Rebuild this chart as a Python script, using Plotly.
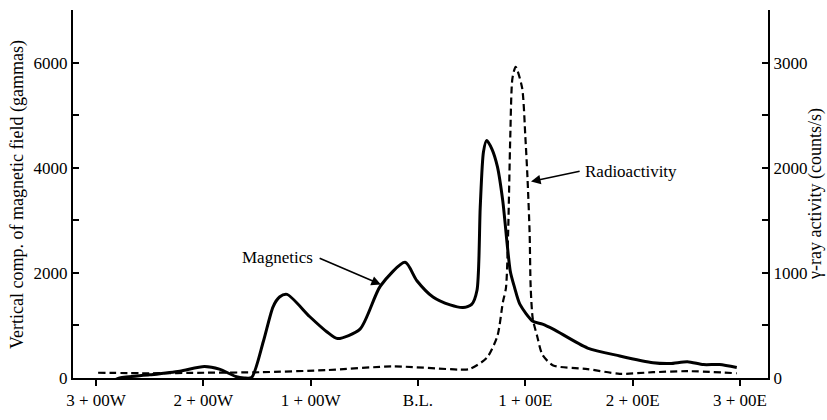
import plotly.graph_objects as go

# Station positions in hundreds of feet (negative = West, 0 = B.L., positive = East)
mag_x = [-2.98, -2.85, -2.78, -2.50, -2.22, -1.99, -1.85, -1.70, -1.62, -1.55, -1.44, -1.35, -1.29, -1.22,
         -1.01, -0.85, -0.75, -0.54, -0.35, -0.12, -0.01, 0.14, 0.30, 0.42, 0.50, 0.55, 0.58, 0.61, 0.64,
         0.69, 0.74, 0.79, 0.86, 0.90, 0.95, 1.07, 1.16, 1.26, 1.58, 1.88, 2.19, 2.35, 2.51, 2.66, 2.81, 2.97]
mag_y = [-150, -60, 0, 60, 130, 220, 170, 30, 0, 10, 700, 1355, 1540, 1590,
         1170, 880, 750, 930, 1750, 2200, 1850, 1540, 1390, 1340, 1400, 1670, 3250, 4300, 4520,
         4350, 4020, 3370, 2030, 1720, 1400, 1080, 1025, 930, 570, 420, 290, 275, 310, 255, 255, 200]

rad_x = [-2.98, -2.5, -1.99, -1.47, -0.85, -0.23, 0.39, 0.48, 0.64, 0.74, 0.79, 0.82, 0.84, 0.86, 0.88,
         0.91, 0.97, 1.00, 1.02, 1.04, 1.05, 1.07, 1.11, 1.16, 1.26, 1.58, 1.88, 2.19, 2.51, 2.97]
rad_y = [50, 45, 50, 55, 75, 110, 80, 85, 190, 400, 715, 860, 1385, 2300, 2850,
         2960, 2760, 2300, 1910, 1385, 860, 560, 400, 220, 120, 85, 40, 55, 65, 45]

x_ticks = [-3, -2, -1, 0, 1, 2, 3]
x_labels = ["3 + 00W", "2 + 00W", "1 + 00W", "B.L.", "1 + 00E", "2 + 00E", "3 + 00E"]
left_ticks = [0, 1000, 2000, 3000, 4000, 5000, 6000, 7000]
left_labels = ["0", "", "2000", "", "4000", "", "6000", ""]
right_ticks = [0, 500, 1000, 1500, 2000, 2500, 3000, 3500]
right_labels = ["0", "", "1000", "", "2000", "", "3000", ""]

FONT = "Liberation Serif"
FS = 17
tf = dict(family=FONT, size=FS, color="black")
titlef = dict(family=FONT, size=18, color="black")

fig = go.Figure()
fig.add_trace(go.Scatter(x=mag_x, y=mag_y, mode="lines", name="Magnetics",
                         line=dict(color="black", width=3, shape="spline", smoothing=0.7),
                         yaxis="y"))
fig.add_trace(go.Scatter(x=rad_x, y=rad_y, mode="lines", name="Radioactivity",
                         line=dict(color="black", width=2.2, dash="7px,4px", shape="spline", smoothing=0.7),
                         yaxis="y2"))

fig.update_layout(
    width=827, height=420,
    margin=dict(l=73, r=59, t=10, b=29),
    paper_bgcolor="white", plot_bgcolor="white",
    showlegend=False,
    font=tf,
    xaxis=dict(range=[-3.214, 3.261], tickvals=x_ticks, ticktext=x_labels,
               showgrid=False, zeroline=False, showline=True, linecolor="black", linewidth=2,
               ticks="outside", ticklen=6, tickwidth=2, tickcolor="black", tickfont=tf),
    yaxis=dict(range=[0, 7000], tickvals=left_ticks, ticktext=left_labels,
               showgrid=False, zeroline=False, showline=True, linecolor="black", linewidth=2,
               ticks="inside", ticklen=6, tickwidth=2, tickcolor="black", tickfont=tf),
    yaxis2=dict(range=[0, 3500], tickvals=right_ticks, ticktext=right_labels,
                overlaying="y", side="right",
                showgrid=False, zeroline=False, showline=True, linecolor="black", linewidth=2,
                ticks="inside", ticklen=6, tickwidth=2, tickcolor="black", tickfont=tf),
    annotations=[
        dict(x=-0.0806, y=0.5, xref="paper", yref="paper", text="Vertical comp. of magnetic field (gammas)",
             textangle=-90, showarrow=False, xanchor="center", yanchor="middle", font=titlef),
        dict(x=1.0676, y=0.5, xref="paper", yref="paper", text="γ-ray activity (counts/s)",
             textangle=-90, showarrow=False, xanchor="center", yanchor="middle", font=titlef),
        dict(x=-0.345, y=1777, xref="x", yref="y", ax=-0.93, ay=2290, axref="x", ayref="y",
             text="", showarrow=True, arrowhead=2, arrowsize=1.2, arrowwidth=1.6, arrowcolor="black"),
        dict(x=-0.96, y=2290, xref="x", yref="y", text="Magnetics", showarrow=False,
             xanchor="right", yanchor="middle", font=tf),
        dict(x=1.053, y=3736, xref="x", yref="y", ax=1.52, ay=3940, axref="x", ayref="y",
             text="", showarrow=True, arrowhead=2, arrowsize=1.2, arrowwidth=1.6, arrowcolor="black"),
        dict(x=1.54, y=3920, xref="x", yref="y", text="Radioactivity", showarrow=False,
             xanchor="left", yanchor="middle", font=tf),
    ],
)

fig.write_html("out.html", config={"displayModeBar": False},
               post_script="document.body.style.margin='0px';document.body.style.overflow='hidden';")
